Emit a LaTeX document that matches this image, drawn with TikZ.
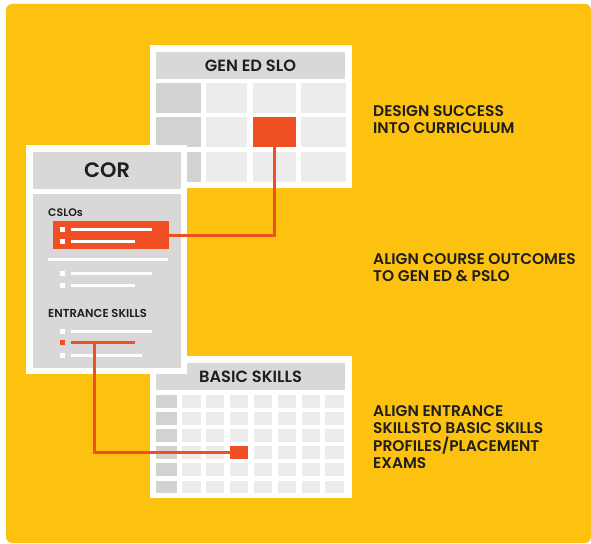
\documentclass[tikz,border=0pt]{standalone}
\usepackage{fontspec}
\setmainfont{Poppins}[BoldFont={Poppins SemiBold}]
\definecolor{bgyellow}{HTML}{FDC210}
\definecolor{redorange}{HTML}{F04E23}
\definecolor{hdrgray}{HTML}{D9D7D7}
\definecolor{cellgray}{HTML}{EDECEC}
\definecolor{darkgray}{HTML}{D3D1D1}
\definecolor{ink}{HTML}{1E1E1E}

\begin{document}
\begin{tikzpicture}[x=1bp,y=-1bp,
  hdr/.style={fill=hdrgray,text=ink,inner sep=0pt,font=\bfseries\fontsize{16.3}{18}\selectfont},
  note/.style={anchor=north west,align=left,inner sep=0pt,text=ink,font=\bfseries\fontsize{15.5}{17.6}\selectfont},
  tag/.style={anchor=base west,inner sep=0pt,text=ink,font=\bfseries\fontsize{11}{12}\selectfont},
  mark cell/.style={fill=redorange,inner sep=0pt},
  link/.style={draw=redorange,line width=3bp}]
\useasboundingbox (0,0) rectangle (591,544);
\fill[bgyellow,rounded corners=6bp] (6,4) rectangle (591,543);

\fill[white] (150,45) rectangle (352,188);
\node[hdr,minimum width=189bp,minimum height=27bp] (genhead) at (250.5,65.5) {GEN ED SLO};
\foreach \ya/\yb in {83/113,117/147,152/182} {
  \fill[darkgray] (156,\ya) rectangle (201,\yb);
  \foreach \xa/\xb in {206/247,253/296,301/346}
    \fill[cellgray] (\xa,\ya) rectangle (\xb,\yb);
}
\node[mark cell,minimum width=43bp,minimum height=30bp] (genred) at (274.5,132) {};

\fill[white] (150,356) rectangle (352,498);
\node[hdr,minimum width=189bp,minimum height=27bp] (basichead) at (250.5,376.5) {BASIC SKILLS};
\foreach \r in {0,...,5} {
  \fill[darkgray] (156,395+17.1*\r) rectangle +(21,12.5);
  \foreach \c in {0,...,6}
    \fill[cellgray] (182+23.9*\c,395+17.1*\r) rectangle +(18.5,12.5);
}
\node[mark cell,minimum width=18.5bp,minimum height=12.5bp] (basicred) at (239.05,452.55) {};

\fill[white] (26,145) rectangle (187,374);
\node[hdr,minimum width=148bp,minimum height=37bp,font=\bfseries\fontsize{21}{24}\selectfont] (corhead) at (107,170.5) {COR};
\fill[hdrgray] (33,194) rectangle (181,368);
\node[tag] (cslos) at (48,216.5) {CSLOs};
\node[mark cell,minimum width=116bp,minimum height=28bp] (cslobox) at (111,235) {};
\draw[white,line width=3bp] (48,259) -- (168,259);
\node[tag,font=\bfseries\fontsize{11.6}{12}\selectfont] (entrance) at (48,317.5) {ENTRANCE SKILLS};
\foreach \y/\l/\col in {229/152/white,241/135/white,273/152/white,285/135/white,331/152/white,342/135/redorange,355/142/white} {
  \fill[\col] (60,\y-2.5) rectangle +(5,5);
  \draw[\col,line width=3bp] (71,\y) -- (\l,\y);
}
\coordinate (esred) at (94,342);

\draw[link] (cslobox.east) -| (genred.south);
\draw[link] (esred) |- (basicred.west);

\node[note] (design) at (373,105) {DESIGN SUCCESS\\INTO CURRICULUM};
\node[note] (align) at (373,253) {ALIGN COURSE OUTCOMES\\TO GEN ED \& PSLO};
\node[note] (placement) at (373,405) {ALIGN ENTRANCE\\SKILLSTO BASIC SKILLS\\PROFILES/PLACEMENT\\EXAMS};
\end{tikzpicture}
\end{document}
